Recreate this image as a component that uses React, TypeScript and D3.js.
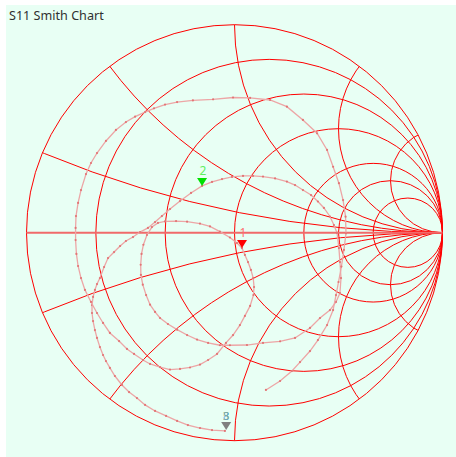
import React from "react";
import * as d3 from "d3";

const title = "S11 Smith Chart";
const resistanceValues = [0, 0.2, 0.5, 1, 2, 3, 5];
const reactanceValues = [0.2, 0.5, 1, 2, 4];

// Reflection coefficient samples (re, im)
const sweepA: [number, number][] = [
  [-0.046, -0.953], [-0.108, -0.949], [-0.166, -0.939], [-0.224, -0.925], [-0.276, -0.905],
  [-0.329, -0.881], [-0.382, -0.857], [-0.43, -0.828], [-0.469, -0.795], [-0.507, -0.766],
  [-0.541, -0.732], [-0.575, -0.689], [-0.599, -0.65], [-0.618, -0.617], [-0.632, -0.588],
  [-0.647, -0.55], [-0.661, -0.506], [-0.671, -0.468], [-0.68, -0.425], [-0.685, -0.386],
  [-0.685, -0.348], [-0.68, -0.309], [-0.671, -0.275], [-0.661, -0.247], [-0.647, -0.218],
  [-0.627, -0.165], [-0.608, -0.122], [-0.579, -0.093], [-0.55, -0.064], [-0.522, -0.04],
  [-0.488, -0.021], [-0.454, 0.003], [-0.416, 0.023], [-0.382, 0.051], [-0.349, 0.08],
  [-0.31, 0.114], [-0.262, 0.152], [-0.209, 0.191], [-0.156, 0.225], [-0.108, 0.244],
  [-0.06, 0.258], [-0.012, 0.268], [0.041, 0.273], [0.089, 0.273], [0.137, 0.27],
  [0.195, 0.261], [0.252, 0.246], [0.291, 0.229], [0.329, 0.205], [0.368, 0.181],
  [0.401, 0.15], [0.43, 0.119], [0.459, 0.078], [0.478, 0.037], [0.493, -0.001],
];
const sweepB: [number, number][] = [
  [0.493, -0.001], [0.502, -0.074], [0.507, -0.141], [0.512, -0.218], [0.507, -0.29],
  [0.488, -0.333], [0.459, -0.372], [0.411, -0.41], [0.363, -0.458], [0.291, -0.506],
  [0.219, -0.522], [0.137, -0.53], [0.06, -0.54], [-0.022, -0.541], [-0.07, -0.541],
  [-0.127, -0.53], [-0.18, -0.514], [-0.228, -0.492], [-0.276, -0.466], [-0.32, -0.439],
  [-0.358, -0.41], [-0.382, -0.381], [-0.406, -0.346], [-0.425, -0.3], [-0.441, -0.25],
  [-0.45, -0.203], [-0.451, -0.154], [-0.447, -0.102], [-0.438, -0.058], [-0.421, -0.011],
  [-0.397, 0.027], [-0.368, 0.047], [-0.334, 0.054], [-0.281, 0.056], [-0.228, 0.053],
  [-0.166, 0.044], [-0.118, 0.03], [-0.07, 0.005], [-0.022, -0.023], [0.012, -0.05],
  [0.036, -0.074],
];
const sweepC: [number, number][] = [
  [0.036, -0.074], [0.05, -0.107], [0.065, -0.141], [0.079, -0.179], [0.09, -0.218],
  [0.094, -0.261], [0.091, -0.3], [0.075, -0.352], [0.05, -0.4], [0.026, -0.444],
  [-0.007, -0.492], [-0.041, -0.53], [-0.084, -0.583], [-0.127, -0.612], [-0.166, -0.634],
  [-0.214, -0.648], [-0.262, -0.655], [-0.31, -0.658], [-0.358, -0.646], [-0.406, -0.631],
  [-0.44, -0.612], [-0.483, -0.583], [-0.517, -0.559], [-0.555, -0.521], [-0.599, -0.482],
  [-0.632, -0.434], [-0.661, -0.386], [-0.69, -0.333], [-0.719, -0.275], [-0.738, -0.218],
  [-0.752, -0.16], [-0.76, -0.102], [-0.764, -0.035], [-0.764, 0.023], [-0.762, 0.08],
  [-0.752, 0.143], [-0.738, 0.205], [-0.714, 0.282], [-0.69, 0.335], [-0.661, 0.383],
  [-0.618, 0.441], [-0.57, 0.494], [-0.522, 0.532], [-0.478, 0.558], [-0.43, 0.58],
  [-0.387, 0.598], [-0.334, 0.616], [-0.276, 0.628], [-0.2, 0.636], [-0.103, 0.641],
  [-0.007, 0.65], [0.075, 0.648], [0.171, 0.638], [0.252, 0.606], [0.329, 0.542],
  [0.397, 0.478], [0.445, 0.398], [0.474, 0.317], [0.502, 0.238], [0.522, 0.157],
  [0.534, 0.077], [0.536, -0.003], [0.526, -0.083], [0.514, -0.163], [0.5, -0.237],
  [0.488, -0.3], [0.474, -0.372], [0.445, -0.444], [0.401, -0.516], [0.363, -0.569],
  [0.315, -0.622], [0.276, -0.665], [0.219, -0.713], [0.151, -0.756],
];

const markerLabels = ["1", "2", "8"];
const markerRe = [0.036, -0.156, -0.04];
const markerIm = [-0.074, 0.225, -0.948];

const W = 456;
const H = 457;
const CX = 234.5;
const CY = 232.7;
const RAD = 208;

export default function App() {
  const x = d3.scaleLinear().domain([-1, 1]).range([CX - RAD, CX + RAD]);
  const y = d3.scaleLinear().domain([-1, 1]).range([CY + RAD, CY - RAD]);
  const k = RAD;
  const line = d3
    .line<[number, number]>()
    .x((d) => x(d[0]))
    .y((d) => y(d[1]));

  const sweeps = [sweepA, sweepB, sweepC];
  const markerColors = ["#ff0000", "#00e000", "#808080"];
  const labelColors = ["#ff7070", "#60f060", "#5b9bd5"];

  return (
    <svg
      width={W}
      height={H}
      style={{ position: "absolute", left: 0, top: 0 }}
      fontFamily="'Noto Sans', 'DejaVu Sans', sans-serif"
    >
      <rect x={0} y={0} width={W} height={H} fill="#ffffff" />
      <rect x={6} y={5} width={W - 6} height={H - 5} fill="#e8fff4" />
      <text x={9} y={19.5} fontSize={12.6} fill="#303030">
        {title}
      </text>
      <defs>
        <clipPath id="unit">
          <circle cx={x(0)} cy={y(0)} r={k} />
        </clipPath>
      </defs>
      <g fill="none" stroke="#ff0000" strokeWidth={1}>
        {resistanceValues.map((r) => (
          <circle key={"r" + r} cx={x(r / (1 + r))} cy={y(0)} r={k / (1 + r)} />
        ))}
        <g clipPath="url(#unit)">
          {reactanceValues.map((v) => (
            <g key={"x" + v}>
              <circle cx={x(1)} cy={y(1 / v)} r={k / v} />
              <circle cx={x(1)} cy={y(-1 / v)} r={k / v} />
            </g>
          ))}
        </g>
        <line x1={x(-1)} x2={x(1)} y1={y(0)} y2={y(0)} stroke="#f06a6a" strokeWidth={2} />
      </g>
      <g>
        {sweeps.map((s, i) => (
          <g key={"s" + i}>
            <path d={line(s) || ""} fill="none" stroke="#eda6a6" strokeWidth={1.3} />
            {s.map((d, j) => (
              <circle key={j} cx={x(d[0])} cy={y(d[1])} r={1.1} fill="#e27575" />
            ))}
          </g>
        ))}
      </g>
      <g>
        {markerLabels.map((lab, i) => {
          const px = x(markerRe[i]);
          const py = y(markerIm[i]);
          return (
            <g key={"m" + i}>
              <path
                d={`M${px},${py} L${px - 5},${py - 8} L${px + 5},${py - 8} Z`}
                fill={markerColors[i]}
              />
              {lab === "8" ? (
                <g fontSize={11} textAnchor="middle">
                  <text x={px} y={py - 10} fill="#40b0a0">3</text>
                  <text x={px} y={py - 10} fill="#d8cc40" opacity={0.8}>5</text>
                  <text x={px} y={py - 10} fill={labelColors[i]} opacity={0.8}>8</text>
                </g>
              ) : (
                <text x={px + 1} y={py - 11} fontSize={12} textAnchor="middle" fill={labelColors[i]}>
                  {lab}
                </text>
              )}
            </g>
          );
        })}
      </g>
    </svg>
  );
}
